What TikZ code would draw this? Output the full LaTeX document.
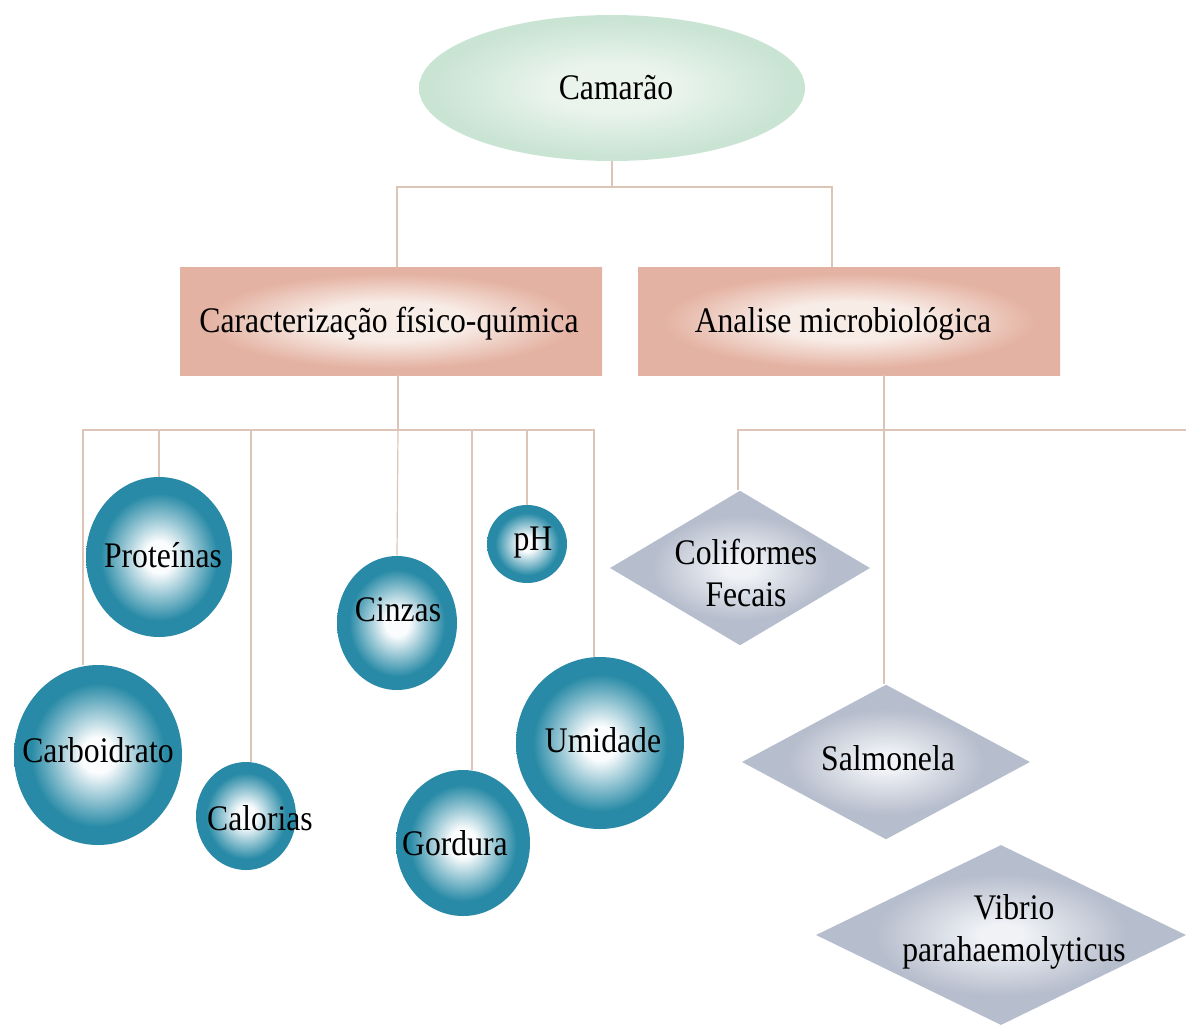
\documentclass[tikz,border=0pt]{standalone}
\usepackage{fontspec}
\setmainfont{Liberation Serif}[FakeStretch=0.88]
\usetikzlibrary{shapes.geometric}
\definecolor{ballcol}{RGB}{40,138,166}
\definecolor{ballin}{RGB}{250,252,253}
\definecolor{camout}{RGB}{202,228,212}
\definecolor{camin}{RGB}{234,244,237}
\definecolor{boxout}{RGB}{228,178,162}
\definecolor{boxin}{RGB}{248,236,230}
\definecolor{diaout}{RGB}{182,189,204}
\definecolor{diain}{RGB}{240,242,246}
\definecolor{conncol}{RGB}{220,196,182}
\pgfdeclareradialshading{ballshade}{\pgfpoint{0bp}{0bp}}{color(0bp)=(ballin); color(5bp)=(ballin); color(20bp)=(ballcol); color(50bp)=(ballcol)}
\pgfdeclareradialshading{camshade}{\pgfpoint{0bp}{0bp}}{color(0bp)=(camin); color(8bp)=(camin); color(23bp)=(camout); color(50bp)=(camout)}
\pgfdeclareradialshading{boxshade}{\pgfpoint{0bp}{0bp}}{color(0bp)=(boxin); color(9bp)=(boxin); color(22bp)=(boxout); color(50bp)=(boxout)}
\pgfdeclareradialshading{diashade}{\pgfpoint{0bp}{0bp}}{color(0bp)=(diain); color(3bp)=(diain); color(17bp)=(diaout); color(50bp)=(diaout)}
\begin{document}
\begin{tikzpicture}[x=0.75pt,y=-0.75pt,
  lbl/.style={font=\fontsize{27}{31}\selectfont, align=center, inner sep=0pt},
  ball/.style={ellipse, shading=ballshade, inner sep=0pt},
  camel/.style={ellipse, shading=camshade, inner sep=0pt},
  catbox/.style={rectangle, shading=boxshade, inner sep=0pt},
  dia/.style={diamond, shading=diashade, inner sep=0pt},
  conn/.style={draw=conncol, line width=0.9pt}]
\useasboundingbox (0,0) rectangle (1186,1026);
\fill[white] (0,0) rectangle (1186,1026);

% top ellipse
\node[camel, minimum width=289.5pt, minimum height=109.5pt] (cam) at (612,88) {};
\node[lbl] (camt) at (616,88) {Camarão};

% category boxes
\node[catbox, minimum width=316.5pt, minimum height=81pt] (box1) at (391,321) {};
\node[lbl] (box1t) at (389,324) {Caracterização físico-química};
\node[catbox, minimum width=316.5pt, minimum height=81pt] (box2) at (849,321) {};
\node[lbl] (box2t) at (843,324) {Analise microbiológica};

% balls
\node[ball, minimum width=109.5pt, minimum height=120pt] (prot) at (159,557) {};
\node[ball, minimum width=90pt, minimum height=100.5pt] (cinz) at (397,623) {};
\node[ball, minimum width=60pt, minimum height=58.5pt] (ph) at (527,544) {};
\node[ball, minimum width=126pt, minimum height=135pt] (carb) at (98,755) {};
\node[ball, minimum width=75pt, minimum height=81pt] (calo) at (246,816) {};
\node[ball, minimum width=100.5pt, minimum height=109.5pt] (gord) at (463,843) {};
\node[ball, minimum width=126pt, minimum height=129pt] (umid) at (600,743) {};
\node[lbl] (prott) at (163,555) {Proteínas};
\node[lbl] (cinzt) at (398,610) {Cinzas};
\node[lbl] (pht) at (533,543) {pH};
\node[lbl] (carbt) at (98,750) {Carboidrato};
\node[lbl] (calot) at (260,818) {Calorias};
\node[lbl] (gordt) at (455,843) {Gordura};
\node[lbl] (umidt) at (603,740) {Umidade};

% diamonds
\node[dia, minimum width=195pt, minimum height=116pt] (coli) at (740,568) {};
\node[dia, minimum width=216pt, minimum height=116pt] (salm) at (886,762) {};
\node[dia, minimum width=277.5pt, minimum height=135pt] (vib) at (1001,935) {};
\node[lbl] (colit) at (746,573) {Coliformes\\Fecais};
\node[lbl] (salmt) at (888,758) {Salmonela};
\node[lbl] (vibt) at (1014,932) {Vibrio\\parahaemolyticus};

% connectors: level 1
\coordinate (jA) at (612,187);
\draw[conn] (cam.south) -- (jA);
\draw[conn] (jA) -| ([xshift=4.5pt]box1.north);
\draw[conn] (jA) -| ([xshift=-12.75pt]box2.north);

% connectors: physico-chemical
\coordinate (jB) at (398,430);
\draw[conn] ([xshift=5.25pt]box1.south) -- (jB);
\draw[conn] (jB) -| ([xshift=-11.25pt]carb.north);
\draw[conn] (jB) -| (prot.north);
\draw[conn] (jB) -| ([xshift=3.75pt]calo.north);
\draw[conn] (jB) -- (cinz.north);
\draw[conn] (jB) -| ([xshift=6.75pt]gord.north);
\draw[conn] (jB) -| (ph.north);
\draw[conn] (jB) -| ([xshift=-4.5pt]umid.north);

% connectors: microbiological
\coordinate (jC) at (884,430);
\coordinate (offR) at (1186,430);
\draw[conn] ([xshift=26.25pt]box2.south) -- (jC);
\draw[conn] (jC) -| ([xshift=-1.5pt]coli.north);
\draw[conn] (jC) -- ([xshift=-1.5pt]salm.north);
\draw[conn] (jC) -- (offR);
\end{tikzpicture}
\end{document}
